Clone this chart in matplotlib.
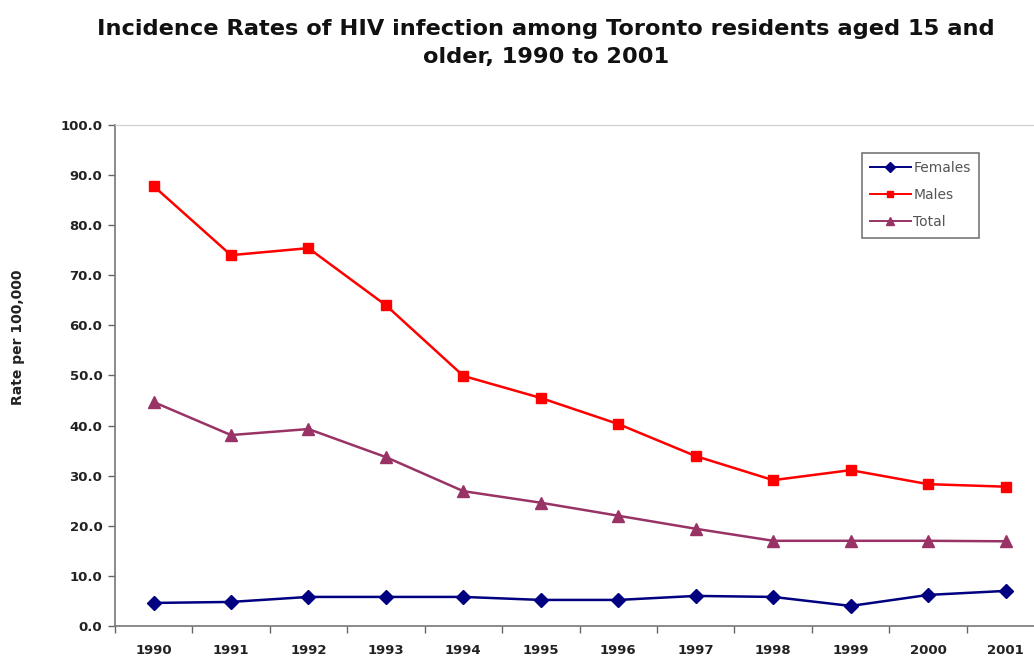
import matplotlib
matplotlib.use("Agg")
import matplotlib.pyplot as plt
from matplotlib.ticker import FixedLocator, FormatStrFormatter

plt.rcParams['font.family'] = ['DejaVu Sans']

years = ['1990', '1991', '1992', '1993', '1994', '1995', '1996', '1997',
         '1998', '1999', '2000', '2001']
females = [4.6, 4.8, 5.8, 5.8, 5.8, 5.2, 5.2, 6.0, 5.8, 4.0, 6.2, 7.0]
males = [87.8, 74.0, 75.4, 64.0, 49.9, 45.5, 40.3, 33.9, 29.1, 31.1, 28.3, 27.8]
total = [44.7, 38.1, 39.3, 33.7, 26.9, 24.6, 22.0, 19.4, 17.0, 17.0, 17.0, 16.9]

title = "Incidence Rates of HIV infection among Toronto residents aged 15 and\nolder, 1990 to 2001"

fig = plt.figure(figsize=(10.34, 6.62), dpi=100)
ax = fig.add_axes([0.111, 0.0544, 0.899, 0.757])

x = list(range(len(years)))
ax.plot(x, females, color='#000080', marker='D', markersize=7, lw=1.8, label='Females')
ax.plot(x, males, color='#FF0000', marker='s', markersize=7, lw=1.8, label='Males')
ax.plot(x, total, color='#993366', marker='^', markersize=8, lw=1.8, label='Total')

ax.set_xlim(-0.5, len(years) - 0.5)
ax.set_ylim(0, 100)

ax.set_yticks([i * 10 for i in range(11)])
ax.yaxis.set_major_formatter(FormatStrFormatter('%.1f'))
ax.set_xticks(x)
ax.set_xticklabels(years)
ax.xaxis.set_minor_locator(FixedLocator([i - 0.5 for i in range(len(years) + 1)]))
ax.tick_params(axis='x', which='major', length=0, pad=13, labelsize=9.5, labelcolor='#222222')
ax.tick_params(axis='x', which='minor', length=5, width=1, color='#666666', direction='out')
ax.tick_params(axis='y', which='major', length=5, width=1, color='#666666', direction='out',
               labelsize=9.5, labelcolor='#222222', pad=4)
for lab in ax.get_xticklabels() + ax.get_yticklabels():
    lab.set_fontweight('bold')

for side in ['left', 'bottom']:
    ax.spines[side].set_color('#777777')
    ax.spines[side].set_linewidth(1.2)
ax.spines['top'].set_color('#cccccc')
ax.spines['right'].set_visible(False)

fig.text(0.0175, 0.49, 'Rate per 100,000', rotation=90, ha='center', va='center',
         fontsize=10, fontweight='bold', color='#222222')

leg = ax.legend(loc='upper left', bbox_to_anchor=(862 / 1034, 1 - 153 / 662),
                bbox_transform=fig.transFigure, fontsize=10, markerscale=0.7,
                frameon=True, fancybox=False, edgecolor='#555555', handlelength=2.9,
                handletextpad=0.2, borderpad=0.6, borderaxespad=0, labelspacing=0.93)
leg.get_frame().set_linewidth(1.2)
for t in leg.get_texts():
    t.set_color('#555555')
for h in leg.get_lines():
    h.set_linewidth(1.4)

fig.text(0.528, 0.972, title, ha='center', va='top', fontsize=16.2, fontweight='bold',
         color='#111111', linespacing=1.5)

fig.savefig('out.png', dpi=100)
